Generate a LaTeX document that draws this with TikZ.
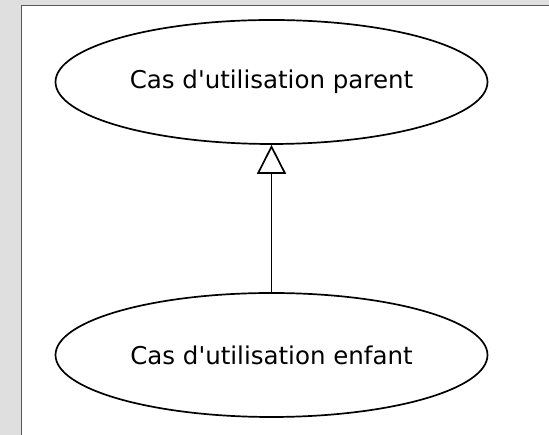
\documentclass[tikz,border=0pt]{standalone}
\usepackage{fontspec}
\setmainfont{DejaVu Sans}
\usetikzlibrary{shapes.geometric,arrows.meta}
\begin{document}
\begin{tikzpicture}[x=1pt,y=1pt,
  usecase/.style={draw=black, line width=1.7pt, ellipse, fill=white,
    minimum width=432pt, minimum height=124pt, inner sep=0pt,
    font=\fontsize{24.5}{29}\selectfont},
  gen/.style={draw=black, line width=1.7pt,
    -{Triangle[open, width=29pt, length=29pt, line width=1.7pt]}}]
\fill[gray!25] (0,0) rectangle (549,435);
\useasboundingbox (0,0) rectangle (549,435);
\fill[white] (21,0) rectangle (549,429);
\draw[gray!70!black, line width=1pt] (21.5,0) -- (21.5,429.5) -- (549,429.5);
\node[usecase] (parent) at (271.5,353) {Cas d\textquotesingle utilisation parent};
\node[usecase] (child) at (271.5,80) {Cas d\textquotesingle utilisation enfant};
\draw[gen] (child.north) -- (parent.south);
\end{tikzpicture}
\end{document}
